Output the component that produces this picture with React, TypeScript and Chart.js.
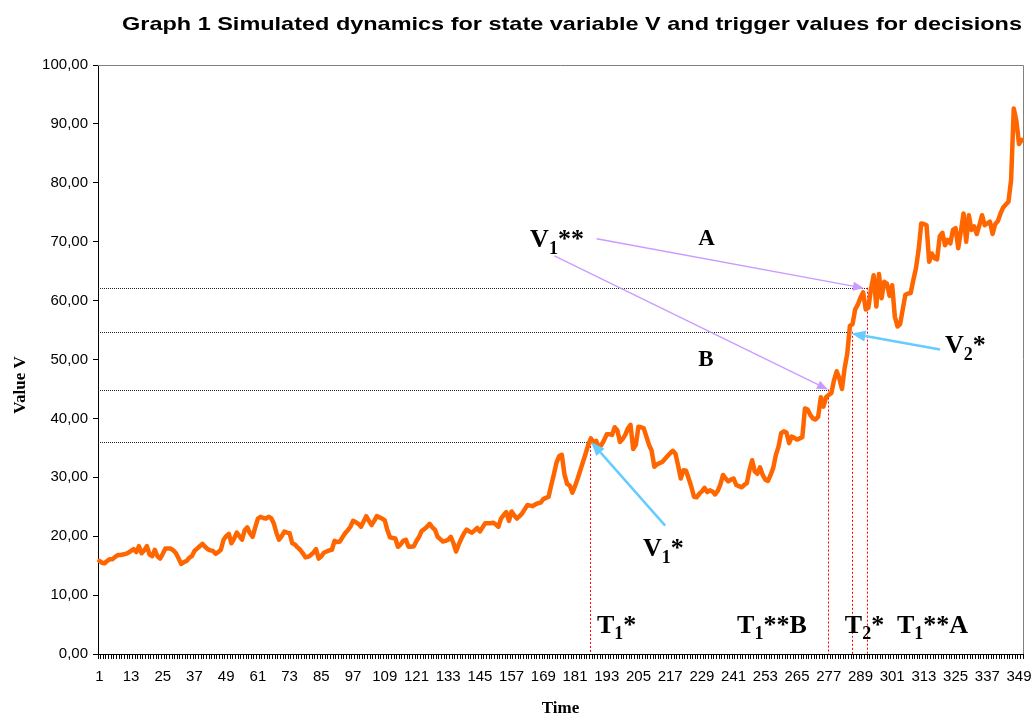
import React, { useEffect, useRef } from 'react';
import { Chart, registerables } from 'chart.js';

Chart.register(...registerables);

const TITLE = 'Graph 1 Simulated dynamics for state variable V and trigger values for decisions';
const X_TITLE = 'Time';
const Y_TITLE = 'Value V';

// Simulated state variable V, one value per time step (1..350)
const values: number[] = [
  15.8, 15.5, 15.4, 15.8, 16.1, 16.1, 16.5, 16.8, 16.8, 16.9,
  17.0, 17.2, 17.5, 17.8, 17.3, 18.3, 17.1, 17.6, 18.3, 16.9,
  16.6, 17.7, 16.6, 16.2, 17.0, 17.9, 17.9, 17.9, 17.6, 17.1,
  16.2, 15.3, 15.6, 15.8, 16.3, 16.6, 17.5, 17.9, 18.3, 18.7,
  18.2, 17.8, 17.6, 17.5, 17.0, 17.3, 17.7, 19.4, 20.0, 20.4,
  18.8, 19.6, 20.6, 20.0, 19.4, 21.0, 21.5, 20.5, 19.9, 21.5,
  23.0, 23.3, 23.1, 23.0, 23.3, 23.1, 22.2, 20.6, 19.4, 20.0,
  20.8, 20.6, 20.5, 18.8, 18.6, 18.1, 17.7, 17.1, 16.4, 16.5,
  16.8, 17.2, 17.8, 16.2, 16.6, 17.2, 17.4, 17.6, 17.7, 19.2,
  19.0, 19.1, 19.8, 20.5, 21.0, 21.6, 22.6, 22.4, 22.1, 21.6,
  22.5, 23.4, 22.6, 21.9, 22.6, 23.4, 23.2, 23.0, 22.7, 21.0,
  19.8, 19.7, 19.6, 18.2, 18.6, 19.2, 19.4, 18.2, 18.2, 18.3,
  19.2, 19.9, 20.9, 21.2, 21.6, 22.1, 21.5, 21.1, 19.9, 19.5,
  19.1, 19.2, 19.4, 19.9, 18.8, 17.4, 18.6, 19.6, 20.5, 21.1,
  20.8, 20.6, 21.0, 21.4, 20.8, 21.5, 22.2, 22.2, 22.2, 22.3,
  22.0, 21.6, 23.0, 23.6, 24.1, 22.6, 24.2, 23.5, 23.0, 23.4,
  23.9, 24.6, 25.3, 25.2, 25.1, 25.4, 25.6, 25.7, 26.3, 26.5,
  26.7, 28.7, 30.5, 32.5, 33.6, 33.8, 30.5, 28.9, 28.6, 27.4,
  28.5, 29.8, 31.2, 32.6, 34.0, 35.5, 36.6, 35.8, 36.2, 35.0,
  35.5, 36.3, 37.3, 37.3, 37.2, 38.5, 38.0, 36.0, 36.5, 37.2,
  38.3, 38.9, 34.8, 35.5, 38.6, 38.5, 38.3, 36.9, 35.5, 34.5,
  31.8, 32.2, 32.4, 32.6, 33.1, 33.6, 34.1, 34.5, 34.0, 32.0,
  29.8, 31.2, 31.1, 29.8, 28.4, 26.7, 26.6, 27.2, 27.6, 28.2,
  27.5, 27.8, 27.6, 27.1, 27.7, 28.8, 30.4, 29.8, 29.3, 29.6,
  29.8, 28.7, 28.5, 28.3, 28.7, 29.0, 31.2, 32.9, 31.0, 30.6,
  31.7, 30.4, 29.6, 29.4, 30.4, 31.6, 33.8, 35.2, 37.5, 37.8,
  37.6, 35.8, 36.9, 36.7, 36.4, 36.6, 36.8, 41.7, 41.5, 40.6,
  40.0, 39.8, 40.3, 43.6, 42.0, 43.6, 44.0, 44.3, 46.5, 48.0,
  46.8, 45.0, 48.5, 51.0, 55.7, 56.0, 58.5, 59.3, 60.5, 61.4,
  58.5, 58.8, 62.0, 64.3, 59.0, 64.5, 60.4, 63.2, 62.9, 60.8,
  62.6, 57.3, 55.6, 56.0, 58.5, 61.0, 61.2, 61.3, 63.5, 65.5,
  68.6, 73.1, 73.0, 72.8, 66.6, 68.0, 67.2, 67.0, 70.9, 71.5,
  69.4, 70.3, 69.7, 72.0, 72.3, 68.9, 71.8, 74.8, 70.0, 74.5,
  72.0, 72.6, 71.3, 72.8, 74.5, 72.8, 73.1, 73.4, 71.3, 73.0,
  73.5, 74.8, 75.8, 76.3, 76.8, 80.5, 92.6, 90.5, 86.6, 87.3,
];

const categories: string[] = values.map((_, i) => String(i + 1));
const X_LABEL_STEP = 12;
const Y_MIN = 0;
const Y_MAX = 100;
const Y_STEP = 10;

// Trigger values (V) and trigger times (0-based fractional time index)
const triggerLevels = [36.0, 44.9, 54.7, 62.2];
const triggerTimes = [185.7, 275.8, 284.7, 290.4];

// Arrows in data coordinates [timeIndex, value]
const purpleArrows = [
  { from: [188.2, 70.5], to: [289.3, 62.1] },
  { from: [172.2, 67.6], to: [275.7, 44.9] },
];
const blueArrows = [
  { from: [214.1, 21.8], to: [186.1, 36.0] },
  { from: [318.1, 51.7], to: [284.6, 54.4] },
];

// Annotation labels: [text, isSubscript] parts, positioned at [timeIndex, value] (left, baseline)
const annotations: { parts: [string, boolean][]; at: [number, number]; size: number }[] = [
  { parts: [['V', false], ['1', true], ['**', false]], at: [163.0, 69.1], size: 26 },
  { parts: [['A', false]], at: [226.6, 69.4], size: 23 },
  { parts: [['B', false]], at: [226.6, 48.9], size: 23 },
  { parts: [['V', false], ['2', true], ['*', false]], at: [320.0, 51.1], size: 26 },
  { parts: [['V', false], ['1', true], ['*', false]], at: [205.7, 16.6], size: 26 },
  { parts: [['T', false], ['1', true], ['*', false]], at: [188.3, 3.6], size: 26 },
  { parts: [['T', false], ['1', true], ['**B', false]], at: [241.3, 3.6], size: 26 },
  { parts: [['T', false], ['2', true], ['*', false]], at: [282.1, 3.6], size: 26 },
  { parts: [['T', false], ['1', true], ['**A', false]], at: [301.8, 3.6], size: 26 },
];

const SANS = '"Liberation Sans", Arial, sans-serif';
const SERIF = '"Liberation Serif", "Times New Roman", serif';

function drawArrow(ctx: CanvasRenderingContext2D, x1: number, y1: number, x2: number, y2: number, color: string, width: number, headLen: number, headW: number) {
  const ang = Math.atan2(y2 - y1, x2 - x1);
  const bx = x2 - headLen * Math.cos(ang);
  const by = y2 - headLen * Math.sin(ang);
  ctx.save();
  ctx.strokeStyle = color;
  ctx.fillStyle = color;
  ctx.lineWidth = width;
  ctx.setLineDash([]);
  ctx.beginPath();
  ctx.moveTo(x1, y1);
  ctx.lineTo(bx, by);
  ctx.stroke();
  ctx.beginPath();
  ctx.moveTo(x2, y2);
  ctx.lineTo(bx + (headW / 2) * Math.sin(ang), by - (headW / 2) * Math.cos(ang));
  ctx.lineTo(bx - (headW / 2) * Math.sin(ang), by + (headW / 2) * Math.cos(ang));
  ctx.closePath();
  ctx.fill();
  ctx.restore();
}

// draw text horizontally stretched to a target width, centred on cx
function drawFitted(ctx: CanvasRenderingContext2D, text: string, cx: number, y: number, targetW: number) {
  const w = ctx.measureText(text).width;
  const sx = targetW / w;
  ctx.save();
  ctx.translate(cx, y);
  ctx.scale(sx, 1);
  ctx.textAlign = 'center';
  ctx.fillText(text, 0, 0);
  ctx.restore();
}

const backPlugin = {
  id: 'backAnnotations',
  beforeDatasetsDraw(chart: any) {
    const { ctx, chartArea, scales } = chart;
    const xs = scales.x;
    const ys = scales.y;
    ctx.save();
    ctx.strokeStyle = '#808080';
    ctx.lineWidth = 1;
    ctx.beginPath();
    ctx.moveTo(chartArea.left, chartArea.top + 0.5);
    ctx.lineTo(chartArea.right + 0.5, chartArea.top + 0.5);
    ctx.lineTo(chartArea.right + 0.5, chartArea.bottom);
    ctx.stroke();
    ctx.strokeStyle = '#222';
    ctx.setLineDash([1, 1]);
    triggerLevels.forEach((lv, i) => {
      const y = Math.round(ys.getPixelForValue(lv)) + 0.5;
      const x = xs.getPixelForValue(triggerTimes[i]);
      ctx.beginPath();
      ctx.moveTo(chartArea.left, y);
      ctx.lineTo(x, y);
      ctx.stroke();
    });
    ctx.strokeStyle = '#ff0000';
    ctx.setLineDash([2, 2]);
    triggerLevels.forEach((lv, i) => {
      const y = ys.getPixelForValue(lv);
      const x = Math.round(xs.getPixelForValue(triggerTimes[i])) + 0.5;
      ctx.beginPath();
      ctx.moveTo(x, y);
      ctx.lineTo(x, chartArea.bottom);
      ctx.stroke();
    });
    ctx.restore();
  },
  afterDatasetsDraw(chart: any) {
    const { ctx, chartArea, scales } = chart;
    const xs = scales.x;
    const ys = scales.y;
    const P = (p: number[]) => [xs.getPixelForValue(p[0]), ys.getPixelForValue(p[1])];
    purpleArrows.forEach((a) => {
      const [x1, y1] = P(a.from);
      const [x2, y2] = P(a.to);
      drawArrow(ctx, x1, y1, x2, y2, '#c99bff', 1.3, 11, 9);
    });
    blueArrows.forEach((a) => {
      const [x1, y1] = P(a.from);
      const [x2, y2] = P(a.to);
      drawArrow(ctx, x1, y1, x2, y2, '#66ccff', 2.5, 14, 11);
    });
    ctx.save();
    ctx.fillStyle = '#000';
    ctx.textBaseline = 'alphabetic';
    ctx.textAlign = 'left';
    annotations.forEach((an) => {
      let [x, y] = P(an.at);
      for (const [t, sub] of an.parts) {
        const sz = sub ? Math.round(an.size * 0.68) : an.size;
        ctx.font = `bold ${sz}px ${SERIF}`;
        ctx.fillText(t, x, sub ? y + an.size * 0.25 : y);
        x += ctx.measureText(t).width;
      }
    });
    // chart title
    ctx.font = `bold 19px ${SANS}`;
    drawFitted(ctx, TITLE, 572, 30, 900);
    // axis titles
    ctx.textAlign = 'center';
    ctx.font = `bold 17px ${SERIF}`;
    ctx.fillText(X_TITLE, (chartArea.left + chartArea.right) / 2, 713);
    ctx.save();
    ctx.translate(25, 385);
    ctx.rotate(-Math.PI / 2);
    ctx.fillText(Y_TITLE, 0, 0);
    ctx.restore();
    ctx.restore();
  },
};

export default function App() {
  const ref = useRef<HTMLCanvasElement | null>(null);
  useEffect(() => {
    if (!ref.current) return;
    const chart = new Chart(ref.current, {
      type: 'line',
      data: {
        labels: categories,
        datasets: [
          {
            data: values,
            borderColor: '#ff6600',
            borderWidth: 4.5,
            pointRadius: 0,
            tension: 0,
            borderJoinStyle: 'round',
            borderCapStyle: 'round',
            fill: false,
          },
        ],
      },
      options: {
        animation: false,
        responsive: false,
        events: [],
        layout: { padding: { top: 65, right: 8, left: 0, bottom: 0 } },
        plugins: {
          legend: { display: false },
          title: { display: false },
          tooltip: { enabled: false },
        },
        scales: {
          x: {
            type: 'category',
            offset: true,
            grid: { offset: true, drawOnChartArea: false, drawTicks: true, tickLength: 5, color: '#000', lineWidth: 1 },
            border: { color: '#000', width: 1 },
            ticks: {
              autoSkip: false,
              maxRotation: 0,
              minRotation: 0,
              padding: 9,
              color: '#000',
              font: { family: SANS, size: 15 },
              callback: (_v: any, i: number) => (i % X_LABEL_STEP === 0 ? categories[i] : ''),
            },
            afterFit: (s: any) => {
              s.height = 62;
            },
          },
          y: {
            min: Y_MIN,
            max: Y_MAX,
            grid: { drawOnChartArea: false, drawTicks: true, tickLength: 5, color: '#000' },
            border: { color: '#000', width: 1 },
            ticks: {
              stepSize: Y_STEP,
              padding: 5,
              color: '#000',
              font: { family: SANS, size: 15 },
              callback: (v: any) => Number(v).toFixed(2).replace('.', ','),
            },
            afterFit: (s: any) => {
              s.width = 98;
            },
          },
        },
      },
      plugins: [backPlugin],
    });
    return () => chart.destroy();
  }, []);
  return (
    <div style={{ position: 'fixed', left: 0, top: 0, width: 1031, height: 716, background: '#fff' }}>
      <canvas ref={ref} width={1031} height={716} style={{ display: 'block' }} />
    </div>
  );
}
